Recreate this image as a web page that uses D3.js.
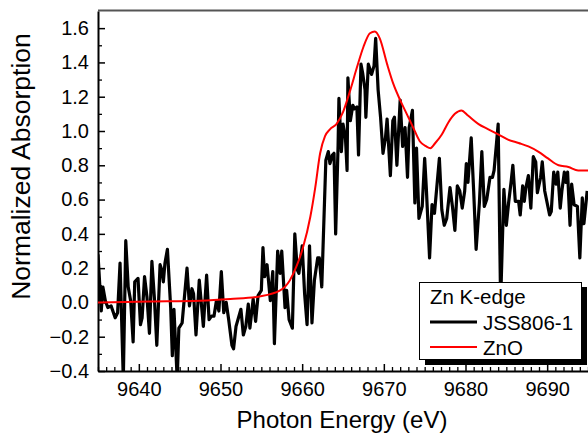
<!DOCTYPE html>
<html>
<head>
<meta charset="utf-8">
<script src="https://cdn.jsdelivr.net/npm/d3@7"></script>
<style>
  html, body { margin: 0; padding: 0; background: #fff; }
  svg { display: block; font-family: "Liberation Sans", Arial, sans-serif; }
</style>
</head>
<body>
<svg id="chart" width="588" height="446"></svg>
<script>
// ---- Data ----
const sampleEnergy = [
  9635.0, 9635.4, 9635.6, 9635.9, 9636.2, 9636.6, 9637.1, 9637.4, 9637.7, 9638.1,
  9638.4, 9638.7, 9639.0, 9639.3, 9639.5, 9639.9, 9640.2, 9640.4, 9640.7, 9641.0,
  9641.3, 9641.6, 9641.9, 9642.2, 9642.6, 9642.8, 9643.0, 9643.2, 9643.5, 9643.9,
  9644.1, 9644.3, 9644.7, 9644.9, 9645.3, 9645.9, 9646.2, 9646.5, 9646.7, 9647.0,
  9647.4, 9647.7, 9647.9, 9648.3, 9648.6, 9648.9, 9649.2, 9649.5, 9649.8, 9650.1,
  9650.4, 9650.7, 9651.0, 9651.4, 9651.6, 9651.9, 9652.5, 9652.8, 9653.1, 9653.4,
  9653.6, 9654.0, 9654.3, 9654.6, 9655.0, 9655.2, 9655.4, 9655.7, 9656.1, 9656.4,
  9656.6, 9657.0, 9657.3, 9657.5, 9657.9, 9658.1, 9658.4, 9658.8, 9659.1, 9659.4,
  9659.6, 9660.0, 9660.3, 9660.6, 9660.9, 9661.2, 9661.5, 9661.9, 9662.1, 9662.4,
  9662.9, 9663.2, 9663.4, 9663.7, 9663.9, 9664.1, 9664.4, 9664.5, 9664.8, 9665.0,
  9665.3, 9665.5, 9665.6, 9665.9, 9666.2, 9666.4, 9666.7, 9666.9, 9667.2, 9667.4,
  9667.7, 9667.8, 9668.1, 9668.3, 9668.5, 9668.8, 9669.0, 9669.3, 9669.6, 9669.9,
  9670.2, 9670.4, 9670.8, 9671.1, 9671.3, 9671.6, 9672.0, 9672.3, 9672.6, 9672.9,
  9673.1, 9673.5, 9673.8, 9674.0, 9674.3, 9674.7, 9675.0, 9675.2, 9675.6, 9675.9,
  9676.2, 9676.8, 9677.1, 9677.4, 9677.7, 9678.1, 9678.4, 9678.7, 9679.0, 9679.3,
  9679.6, 9679.9, 9680.1, 9680.3, 9680.7, 9681.0, 9681.3, 9681.7, 9682.0, 9682.3,
  9682.6, 9683.0, 9683.3, 9683.5, 9683.8, 9684.0, 9684.3, 9684.7, 9685.0, 9685.3,
  9685.6, 9685.8, 9686.1, 9686.5, 9686.7, 9687.0, 9687.2, 9687.4, 9687.7, 9688.0,
  9688.3, 9688.6, 9688.8, 9689.2, 9689.4, 9689.7, 9690.3, 9690.5, 9690.8, 9691.1,
  9691.3, 9691.6, 9691.8, 9692.1, 9692.3, 9692.5, 9692.8, 9693.0, 9693.3, 9693.7,
  9694.0, 9694.3, 9694.5, 9694.9
];
const sampleAbs = [
   0.28, -0.05,  0.09,  0.01, -0.03, -0.02, -0.09, -0.06,  0.23, -0.45,
   0.36,  0.09,  0.01, -0.23,  0.12,  0.14, -0.13, -0.09,  0.15,  0.03,
  -0.18,  0.24,  0.03, -0.25,  0.22,  0.19,  0.12,  0.23,  0.31, -0.03,
  -0.31, -0.04, -0.45, -0.15, -0.12,  0.20, -0.02,  0.08,  0.05, -0.19,
   0.13, -0.03, -0.14,  0.16, -0.10, -0.08, -0.08,  0.01, -0.05,  0.18,
  -0.06,  0.00, -0.10, -0.25, -0.27, -0.14, -0.04, -0.19, -0.14, -0.01,
  -0.15,  0.02, -0.11,  0.04,  0.07,  0.32,  0.15,  0.22,  0.01,  0.18,
  -0.24,  0.30,  0.17,  0.30, -0.03,  0.07, -0.10, -0.15,  0.40,  0.19,
   0.17,  0.33,  0.05, -0.13,  0.33, -0.12,  0.13,  0.26,  0.26,  0.09,
   0.83,  0.88,  0.81,  0.86,  0.87,  0.40,  0.92,  1.19,  0.88,  1.04,
   0.96,  0.77,  1.31,  1.06,  1.15,  1.13,  1.14,  0.86,  1.39,  1.34,
   1.24,  1.08,  1.39,  1.36,  1.33,  1.38,  1.54,  1.24,  1.08,  0.87,
   0.96,  1.07,  0.74,  1.06,  1.08,  0.80,  1.18,  0.91,  1.02,  0.73,
   1.02,  1.12,  0.58,  0.90,  0.49,  0.56,  0.84,  0.67,  0.26,  0.57,
   0.52,  0.84,  0.54,  0.45,  0.49,  0.67,  0.56,  0.42,  0.68,  0.65,
   0.55,  0.65,  0.81,  0.70,  0.96,  0.65,  0.31,  0.58,  0.88,  0.56,
   0.60,  0.73,  0.73,  0.77,  0.93,  1.04,  0.00,  0.66,  0.45,  0.59,
   0.71,  0.80,  0.59,  0.59,  0.51,  0.68,  0.59,  0.67,  0.74,  0.55,
   0.85,  0.82,  0.64,  0.73,  0.82,  0.65,  0.51,  0.53,  0.76,  0.69,
   0.76,  0.55,  0.65,  0.76,  0.70,  0.76,  0.45,  0.69,  0.57,  0.56,
   0.26,  0.61,  0.46,  0.65
];
const refEnergy = [
  9635.0, 9641.4, 9647.5, 9651.2, 9654.8, 9657.3, 9658.5, 9659.3, 9660.1, 9661.0,
  9661.6, 9662.2, 9662.8, 9663.4, 9664.2, 9665.0, 9665.9, 9666.7, 9667.5, 9668.3,
  9668.9, 9669.5, 9670.4, 9671.2, 9672.0, 9672.8, 9673.6, 9674.4, 9675.2, 9675.7,
  9676.3, 9677.1, 9677.9, 9678.7, 9679.5, 9680.3, 9681.6, 9682.8, 9684.0, 9685.2,
  9686.5, 9687.7, 9688.9, 9690.1, 9691.4, 9692.6, 9693.8, 9695.0
];
const refAbs = [
  0.00, 0.005, 0.01, 0.02, 0.035, 0.07, 0.13, 0.21, 0.32, 0.50,
  0.67, 0.87, 0.97, 1.01, 1.04, 1.11, 1.24, 1.37, 1.49, 1.57,
  1.58, 1.54, 1.39, 1.27, 1.18, 1.10, 1.02, 0.94, 0.91, 0.90,
  0.93, 0.98, 1.05, 1.10, 1.12, 1.09, 1.04, 1.01, 0.98, 0.95,
  0.93, 0.91, 0.88, 0.84, 0.80, 0.79, 0.77, 0.77
];
const xTicks = [9640, 9650, 9660, 9670, 9680, 9690];
const yTicks = [-0.4, -0.2, 0.0, 0.2, 0.4, 0.6, 0.8, 1.0, 1.2, 1.4, 1.6];
const seriesNames = ["JSS806-1", "ZnO"];
const legendTitle = "Zn K-edge";
const xTitle = "Photon Energy (eV)";
const yTitle = "Normalized Absorption";

// ---- Layout ----
const L = 98, R = 588, T = 11, B = 371;
const svg = d3.select("#chart");
const x = d3.scaleLinear().domain([9635, 9695]).range([L, R]);
const y = d3.scaleLinear().domain([-0.4, 1.7]).range([B, T]);

svg.append("defs").append("clipPath").attr("id", "clip")
  .append("rect").attr("x", L).attr("y", T).attr("width", R - L).attr("height", B - T);

// top frame line
svg.append("line").attr("x1", L).attr("x2", R).attr("y1", T - 0.5).attr("y2", T - 0.5)
  .attr("stroke", "#555").attr("stroke-width", 2);

// minor ticks
const xMinor = d3.range(9635, 9696, 1).filter(v => v % 10 !== 0);
const yMinor = d3.range(-3, 17, 2).map(v => v / 10);
svg.append("g").attr("transform", `translate(0,${B})`)
  .call(d3.axisBottom(x).tickValues(xMinor).tickSize(-4).tickFormat(""))
  .call(g => g.select(".domain").remove())
  .call(g => g.selectAll("line").attr("stroke", "#000").attr("stroke-width", 1.3));
svg.append("g").attr("transform", `translate(${L},0)`)
  .call(d3.axisLeft(y).tickValues(yMinor).tickSize(-4).tickFormat(""))
  .call(g => g.select(".domain").remove())
  .call(g => g.selectAll("line").attr("stroke", "#000").attr("stroke-width", 1.3));

// major axes
const xAxis = svg.append("g").attr("transform", `translate(0,${B})`)
  .call(d3.axisBottom(x).tickValues(xTicks).tickSize(-7).tickSizeOuter(0).tickPadding(11).tickFormat(d3.format("d")));
const yAxis = svg.append("g").attr("transform", `translate(${L},0)`)
  .call(d3.axisLeft(y).tickValues(yTicks).tickSize(-7).tickSizeOuter(0).tickPadding(9).tickFormat(d3.format(".1f")));
[xAxis, yAxis].forEach(g => {
  g.select(".domain").attr("stroke", "#000").attr("stroke-width", 2);
  g.selectAll(".tick line").attr("stroke", "#000").attr("stroke-width", 1.5);
  g.selectAll("text").attr("fill", "#000").style("font-size", "20px")
    .style("font-family", "'Liberation Sans', Arial, sans-serif");
});

// lines
const plot = svg.append("g").attr("clip-path", "url(#clip)");
const refData = refEnergy.map((e, i) => [e, refAbs[i]]);
const sampleData = sampleEnergy.map((e, i) => [e, sampleAbs[i]]);
plot.append("path").datum(sampleData)
  .attr("fill", "none").attr("stroke", "#000").attr("stroke-width", 3.2)
  .attr("stroke-linejoin", "round")
  .attr("d", d3.line().x(d => x(d[0])).y(d => y(d[1])));
plot.append("path").datum(refData)
  .attr("fill", "none").attr("stroke", "#ff0000").attr("stroke-width", 2)
  .attr("d", d3.line().curve(d3.curveMonotoneX).x(d => x(d[0])).y(d => y(d[1])));

// axis titles
svg.append("text").attr("x", (L + R) / 2 - 1).attr("y", 428)
  .attr("text-anchor", "middle").style("font-size", "24px").attr("fill", "#000").text(xTitle);
svg.append("text").attr("transform", "translate(30,166.5) rotate(-90)")
  .attr("text-anchor", "middle").style("font-size", "26.5px").attr("fill", "#000").text(yTitle);

// legend
const lg = svg.append("g");
lg.append("rect").attr("x", 425).attr("y", 287).attr("width", 162).attr("height", 78).attr("fill", "#000");
lg.append("rect").attr("x", 419.5).attr("y", 282.5).attr("width", 162).attr("height", 77)
  .attr("fill", "#fff").attr("stroke", "#000").attr("stroke-width", 1);
lg.append("text").attr("x", 430).attr("y", 304).style("font-size", "20.5px").attr("fill", "#000").text(legendTitle);
const colors = ["#000", "#ff0000"];
const widths = [3, 2];
const rowsY = [322, 347];
seriesNames.forEach((n, i) => {
  lg.append("line").attr("x1", 430).attr("x2", 477).attr("y1", rowsY[i]).attr("y2", rowsY[i])
    .attr("stroke", colors[i]).attr("stroke-width", widths[i]);
  lg.append("text").attr("x", 483).attr("y", rowsY[i] + 7.5).style("font-size", "20.5px")
    .attr("fill", "#000").text(n);
});
</script>
</body>
</html>
